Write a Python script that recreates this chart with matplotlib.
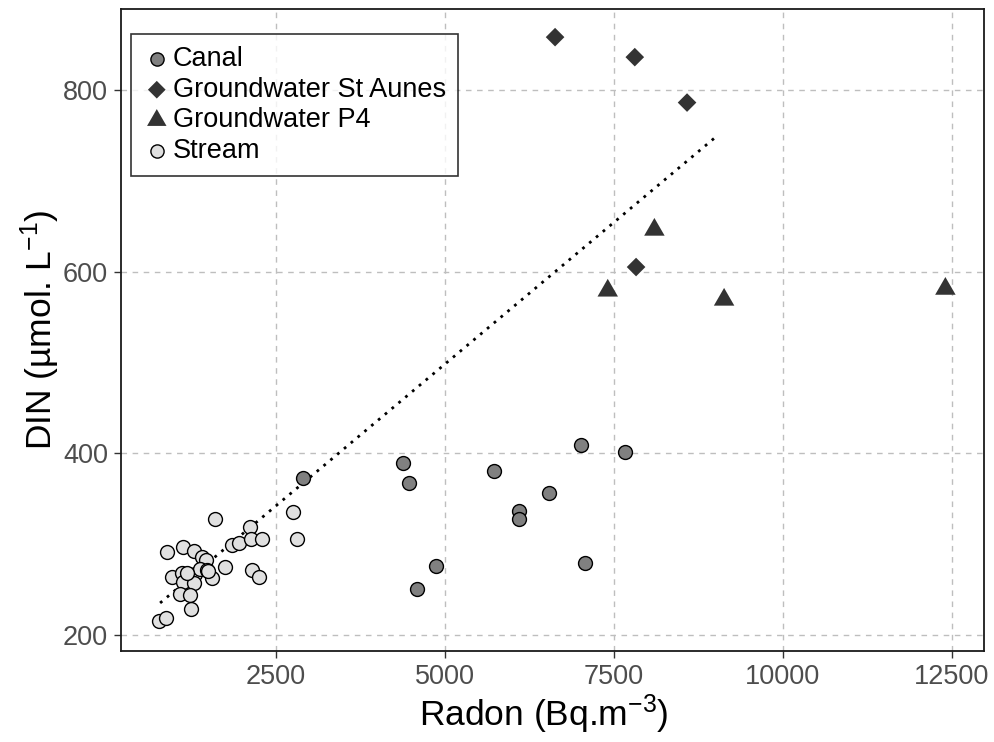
import numpy as np
import matplotlib
matplotlib.use("Agg")
import matplotlib.pyplot as plt

plt.rcParams['font.family'] = ['Liberation Sans', 'DejaVu Sans']
plt.rcParams['mathtext.fontset'] = 'custom'
plt.rcParams['mathtext.rm'] = 'Liberation Sans'
plt.rcParams['mathtext.it'] = 'Liberation Sans:italic'

# Stream samples (radon, DIN)
stream_radon = [1602, 897, 1133, 1291, 1405, 1469, 971, 1109, 1208, 1306, 1380, 1479,
                1562, 1133, 1291, 1084, 1228, 1243, 778, 877, 1750, 1849, 1962, 2120,
                2130, 2293, 2154, 2258, 2751, 2811, 1183, 1503]
stream_din = [328, 291, 297, 292, 286, 283, 264, 268, 267, 267, 273, 272,
              263, 258, 257, 245, 244, 229, 215, 219, 275, 299, 301, 319,
              306, 306, 272, 264, 335, 306, 268, 270]

# Canal samples
canal_radon = [2907, 4379, 4467, 4871, 4595, 5734, 6547, 6104, 6104, 7012, 7672, 7075]
canal_din = [373, 389, 367, 276, 251, 381, 356, 337, 328, 409, 401, 279]

# Groundwater St Aunes
gwsa_radon = [6632, 7811, 8584, 7830]
gwsa_din = [858, 836, 786, 605]

# Groundwater P4
gwp4_radon = [8101, 7411, 9132, 12405]
gwp4_din = [646, 579, 569, 581]

# Trend line (linear fit)
trend_x = [790, 9040]
trend_slope = 0.0624
trend_intercept = 186

fig = plt.figure(figsize=(9.95, 7.42), dpi=100)
ax = fig.add_axes([0.1213, 0.1226, 0.8677, 0.8653])

ax.grid(True, color='#bebebe', linestyle=(0, (4, 4)), linewidth=1)
ax.set_axisbelow(True)

tx = np.array(trend_x)
ax.plot(tx, trend_slope * tx + trend_intercept, color='black', linestyle=(0, (1, 2.2)),
        linewidth=2, zorder=2)

tri = [(-1, -0.577), (1, -0.577), (0, 1.155)]

ax.scatter(canal_radon, canal_din, s=100, marker='o', facecolor='#808080',
           edgecolor='black', linewidth=1, label='Canal', zorder=3)
ax.scatter(gwsa_radon, gwsa_din, s=90, marker='D', facecolor='#333333',
           edgecolor='none', label='Groundwater St Aunes', zorder=3)
ax.scatter(gwp4_radon, gwp4_din, s=290, marker=tri, facecolor='#333333',
           edgecolor='none', label='Groundwater P4', zorder=3)
ax.scatter(stream_radon, stream_din, s=100, marker='o', facecolor='#e0e0e0',
           edgecolor='black', linewidth=1, label='Stream', zorder=3)

ax.set_xlim(207, 12977)
ax.set_ylim(182.4, 889)
ax.set_xticks([2500, 5000, 7500, 10000, 12500])
ax.set_yticks([200, 400, 600, 800])
ax.tick_params(labelsize=19.5, labelcolor='#4d4d4d', color='#333333', length=5, width=1,
               pad=4)

for sp in ax.spines.values():
    sp.set_linewidth(1.3)
    sp.set_color('#1a1a1a')

ax.set_xlabel('Radon (Bq.m$^{-3}$)', fontsize=25.5, labelpad=4)
ax.set_ylabel('DIN (µmol. L$^{-1}$)', fontsize=25.5, labelpad=1)
ax.xaxis.set_label_coords(0.49, -0.065, transform=ax.transAxes)
ax.xaxis.label.set_va('top')

leg = ax.legend(loc='upper left', bbox_to_anchor=(0.012, 0.961), borderaxespad=0,
                fontsize=19.5, frameon=True, fancybox=False, edgecolor='black',
                handletextpad=0.1, labelspacing=0.17, borderpad=0.45,
                markerscale=0.95, handlelength=1.0)
leg.get_frame().set_linewidth(1.2)

fig.savefig('out.png', dpi=100)
